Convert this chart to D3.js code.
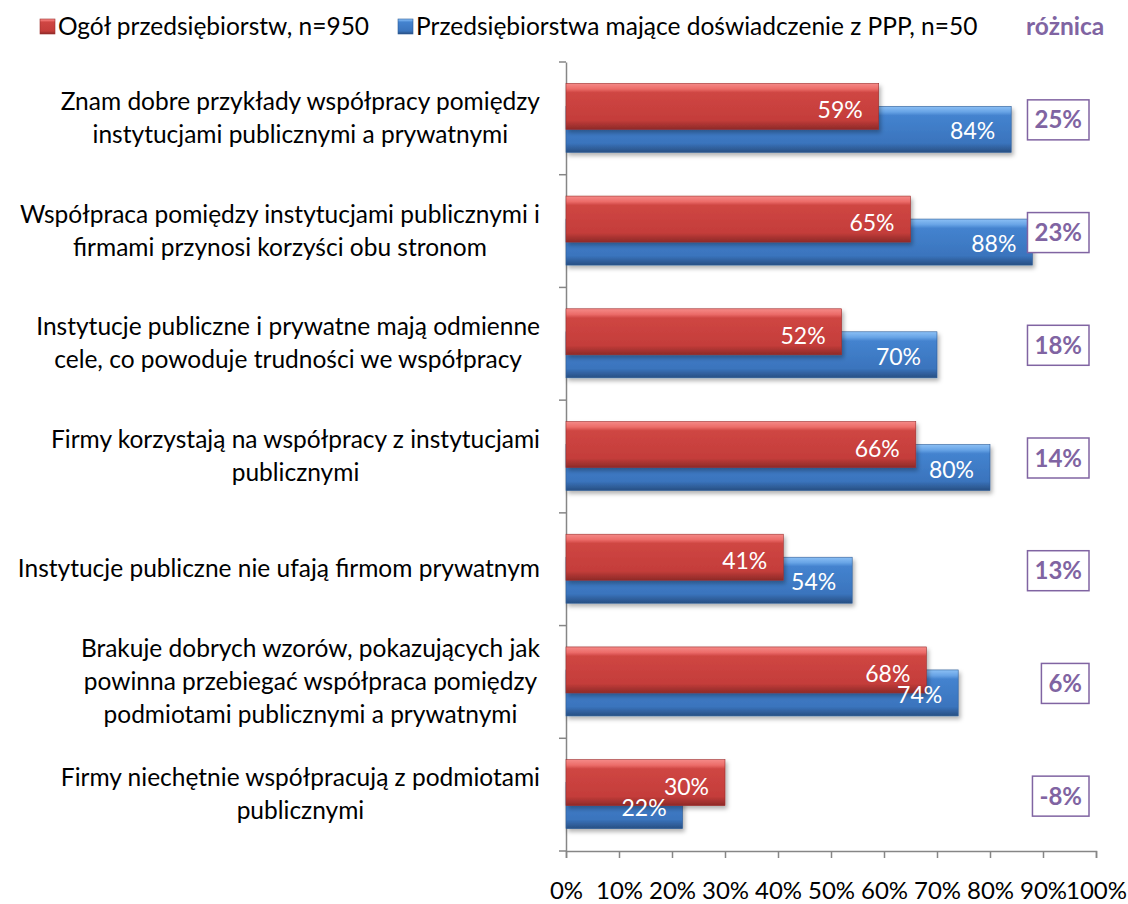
<!DOCTYPE html>
<html>
<head>
<meta charset="utf-8">
<script src="https://cdn.jsdelivr.net/npm/d3@7"></script>
<style>
	body { margin: 0; background: #fff; }
	svg { display: block; font-family: Lato, "Open Sans", sans-serif; }
</style>
</head>
<body>
<div id="chart"></div>
<script>
// categories, one array of lines per row
var categories = [
	["Znam dobre przykłady współpracy pomiędzy", "instytucjami publicznymi a prywatnymi"],
	["Współpraca pomiędzy instytucjami publicznymi i", "firmami przynosi korzyści obu stronom"],
	["Instytucje publiczne i prywatne mają odmienne", "cele, co powoduje trudności we współpracy"],
	["Firmy korzystają na współpracy z instytucjami", "publicznymi"],
	["Instytucje publiczne nie ufają firmom prywatnym"],
	["Brakuje dobrych wzorów, pokazujących jak", "powinna przebiegać współpraca pomiędzy", "podmiotami publicznymi a prywatnymi"],
	["Firmy niechętnie współpracują z podmiotami", "publicznymi"]
];
var ogolValues = [59, 65, 52, 66, 41, 68, 30];
var pppValues = [84, 88, 70, 80, 54, 74, 22];
var diffValues = [25, 23, 18, 14, 13, 6, -8];
var xTicks = [0, 10, 20, 30, 40, 50, 60, 70, 80, 90, 100];
var seriesNames = ["Ogół przedsiębiorstw, n=950", "Przedsiębiorstwa mające doświadczenie z PPP, n=50"];

var width = 1128, height = 904;
var purple = "#8064A2";
var axisColor = "#868686";

var svg = d3.select("#chart").append("svg")
	.attr("width", width)
	.attr("height", height);

var defs = svg.append("defs");

// bevel-ish gradients
function gradient(id, stops) {
	var g = defs.append("linearGradient").attr("id", id)
		.attr("x1", 0).attr("y1", 0).attr("x2", 0).attr("y2", 1);
	stops.forEach(function (s) {
		g.append("stop").attr("offset", s[0]).attr("stop-color", s[1]);
	});
}
gradient("redGrad", [[0, "#f58a88"], [0.12, "#ec6c69"], [0.2, "#cf4643"], [0.8, "#c43d3a"], [0.9, "#a83331"], [1, "#8e2a28"]]);
gradient("blueGrad", [[0, "#8cc0f5"], [0.12, "#68a4e6"], [0.2, "#4483cf"], [0.8, "#3a74bd"], [0.9, "#31619f"], [1, "#284f83"]]);

var shadow = defs.append("filter").attr("id", "shadow")
	.attr("x", "-5%").attr("y", "-20%").attr("width", "115%").attr("height", "160%");
shadow.append("feDropShadow")
	.attr("dx", 2).attr("dy", 3).attr("stdDeviation", 2)
	.attr("flood-color", "#000").attr("flood-opacity", 0.3);

// scales
var x = d3.scaleLinear().domain([0, 100]).range([566, 1096]);
var y = d3.scaleBand().domain(d3.range(categories.length)).range([62, 851]).padding(0);

var barH = 46, offset = 23;

// axes
var yAxis = svg.append("g")
	.attr("transform", "translate(" + x(0) + ",0)")
	.call(d3.axisLeft(y).tickSize(0).tickFormat(""));
yAxis.select(".domain").attr("stroke", axisColor).attr("stroke-width", 1.5);
// tick marks at band boundaries
var bounds = d3.range(categories.length + 1).map(function (i) {
	return i < categories.length ? y(i) : y.range()[1];
});
svg.append("g").selectAll("line").data(bounds).enter().append("line")
	.attr("x1", x(0) - 7).attr("x2", x(0))
	.attr("y1", function (d) { return d; })
	.attr("y2", function (d) { return d; })
	.attr("stroke", axisColor).attr("stroke-width", 1.5);

var xAxis = svg.append("g")
	.attr("transform", "translate(0," + y.range()[1] + ")")
	.call(d3.axisBottom(x).tickValues(xTicks).tickSize(7).tickPadding(24)
		.tickFormat(function (d) { return d + "%"; }));
xAxis.select(".domain").attr("stroke", axisColor).attr("stroke-width", 1.5);
xAxis.selectAll(".tick line").attr("stroke", axisColor).attr("stroke-width", 1.5);
xAxis.selectAll(".tick text")
	.style("font-family", "Lato, sans-serif")
	.style("font-size", "24px")
	.attr("fill", "#000");

// rows
var rows = svg.append("g").selectAll("g")
	.data(categories)
	.enter().append("g");

function center(i) { return y(i) + y.bandwidth() / 2; }
function redTop(i) { return center(i) - 35; }

// blue bars under red
rows.append("rect")
	.attr("x", x(0))
	.attr("y", function (d, i) { return redTop(i) + offset; })
	.attr("width", function (d, i) { return x(pppValues[i]) - x(0); })
	.attr("height", barH)
	.attr("fill", "url(#blueGrad)")
	.attr("stroke", "#2d5c96").attr("stroke-width", 0.6)
	.attr("filter", "url(#shadow)");
rows.append("rect")
	.attr("x", x(0))
	.attr("y", function (d, i) { return redTop(i); })
	.attr("width", function (d, i) { return x(ogolValues[i]) - x(0); })
	.attr("height", barH)
	.attr("fill", "url(#redGrad)")
	.attr("stroke", "#9c2f2d").attr("stroke-width", 0.6)
	.attr("filter", "url(#shadow)");

rows.append("text")
	.attr("x", function (d, i) { return x(ogolValues[i]) - 16; })
	.attr("y", function (d, i) { return redTop(i) + 35; })
	.attr("text-anchor", "end")
	.attr("fill", "#fff")
	.style("font-size", "23px")
	.text(function (d, i) { return ogolValues[i] + "%"; });
rows.append("text")
	.attr("x", function (d, i) { return x(pppValues[i]) - 16; })
	.attr("y", function (d, i) { return redTop(i) + offset + 33; })
	.attr("text-anchor", "end")
	.attr("fill", "#fff")
	.style("font-size", "23px")
	.text(function (d, i) { return pppValues[i] + "%"; });

// category labels: block right-aligned, lines centred in block
var lineH = 33;
rows.each(function (lines, i) {
	var g = d3.select(this);
	var t = g.append("text")
		.attr("text-anchor", "middle")
		.attr("fill", "#000")
		.style("font-size", "24.5px");
	var spans = lines.map(function (l, j) {
		return t.append("tspan").text(l)
			.attr("y", center(i) - (lines.length - 1) * lineH / 2 + j * lineH + 8);
	});
	var maxW = d3.max(spans, function (s) { return s.node().getComputedTextLength(); });
	spans.forEach(function (s) { s.attr("x", 540 - maxW / 2); });
});

// difference boxes, right edge fixed
var boxRight = 1089;
rows.each(function (d, i) {
	var g = d3.select(this);
	var cy = center(i) + 1.5;
	var t = g.append("text")
		.attr("y", cy + 8.5)
		.attr("text-anchor", "middle")
		.attr("fill", purple)
		.style("font-size", "24px").style("font-weight", "bold")
		.text(diffValues[i] + "%");
	var w = t.node().getComputedTextLength() + 14;
	t.attr("x", boxRight - w / 2);
	g.insert("rect", "text:last-child")
		.attr("x", boxRight - w).attr("y", cy - 20)
		.attr("width", w).attr("height", 40)
		.attr("fill", "#fff")
		.attr("stroke", purple).attr("stroke-width", 1.5);
});

// legend
var legend = svg.append("g").style("font-size", "24.5px");
var legendItems = [
	{ name: seriesNames[0], grad: "url(#redGrad)", stroke: "#9c2f2d", x: 40 },
	{ name: seriesNames[1], grad: "url(#blueGrad)", stroke: "#2d5c96", x: 398 }
];
legendItems.forEach(function (it) {
	legend.append("rect")
		.attr("x", it.x).attr("y", 19).attr("width", 15).attr("height", 15)
		.attr("fill", it.grad).attr("stroke", it.stroke).attr("stroke-width", 0.6);
	legend.append("text")
		.attr("x", it.x + 18).attr("y", 35)
		.attr("fill", "#000")
		.text(it.name);
});
legend.append("text")
	.attr("x", 1026).attr("y", 35)
	.attr("fill", purple)
	.style("font-weight", "bold")
	.text("różnica");
</script>
</body>
</html>
